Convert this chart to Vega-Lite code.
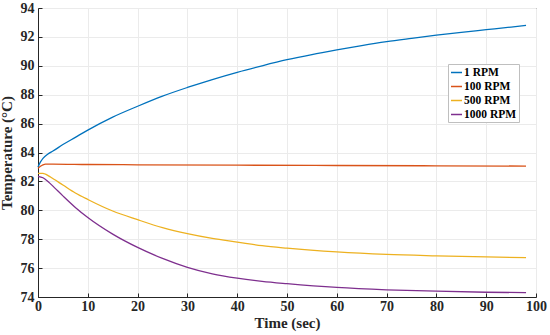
{
  "$schema": "https://vega.github.io/schema/vega-lite/v6.json",
  "width": 498,
  "height": 289,
  "autosize": {"type": "none"},
  "padding": {"left": 38, "top": 8, "right": 14, "bottom": 38},
  "background": "white",
  "config": {
    "view": {"stroke": "#262626", "strokeWidth": 1},
    "axis": {
      "labelFont": "Liberation Serif", "labelFontWeight": "bold", "labelFontSize": 14, "labelColor": "#262626",
      "titleFont": "Liberation Serif", "titleFontWeight": "bold", "titleFontSize": 15, "titleColor": "#262626",
      "domainColor": "#262626", "tickColor": "#262626", "gridColor": "#ebebeb", "gridWidth": 1
    }
  },
  "data": {"values": [
    {"t": 0, "T": 83.0, "s": "1 RPM"}, {"t": 0.5, "T": 83.35, "s": "1 RPM"}, {"t": 1, "T": 83.6, "s": "1 RPM"}, {"t": 2, "T": 83.9, "s": "1 RPM"}, {"t": 3, "T": 84.1, "s": "1 RPM"}, {"t": 5, "T": 84.55, "s": "1 RPM"}, {"t": 7.5, "T": 85.05, "s": "1 RPM"}, {"t": 10, "T": 85.55, "s": "1 RPM"}, {"t": 15, "T": 86.45, "s": "1 RPM"}, {"t": 20, "T": 87.2, "s": "1 RPM"}, {"t": 25, "T": 87.9, "s": "1 RPM"}, {"t": 30, "T": 88.5, "s": "1 RPM"}, {"t": 35, "T": 89.05, "s": "1 RPM"}, {"t": 40, "T": 89.55, "s": "1 RPM"}, {"t": 45, "T": 90.0, "s": "1 RPM"}, {"t": 50, "T": 90.42, "s": "1 RPM"}, {"t": 55, "T": 90.78, "s": "1 RPM"}, {"t": 60, "T": 91.1, "s": "1 RPM"}, {"t": 65, "T": 91.4, "s": "1 RPM"}, {"t": 70, "T": 91.67, "s": "1 RPM"}, {"t": 75, "T": 91.9, "s": "1 RPM"}, {"t": 80, "T": 92.12, "s": "1 RPM"}, {"t": 85, "T": 92.32, "s": "1 RPM"}, {"t": 90, "T": 92.5, "s": "1 RPM"}, {"t": 95, "T": 92.68, "s": "1 RPM"}, {"t": 98, "T": 92.8, "s": "1 RPM"},
    {"t": 0, "T": 82.9, "s": "100 RPM"}, {"t": 0.5, "T": 83.05, "s": "100 RPM"}, {"t": 1, "T": 83.15, "s": "100 RPM"}, {"t": 1.5, "T": 83.2, "s": "100 RPM"}, {"t": 3, "T": 83.2, "s": "100 RPM"}, {"t": 10, "T": 83.17, "s": "100 RPM"}, {"t": 20, "T": 83.15, "s": "100 RPM"}, {"t": 40, "T": 83.12, "s": "100 RPM"}, {"t": 60, "T": 83.1, "s": "100 RPM"}, {"t": 80, "T": 83.08, "s": "100 RPM"}, {"t": 98, "T": 83.06, "s": "100 RPM"},
    {"t": 0, "T": 82.55, "s": "500 RPM"}, {"t": 1, "T": 82.55, "s": "500 RPM"}, {"t": 1.5, "T": 82.5, "s": "500 RPM"}, {"t": 2.5, "T": 82.3, "s": "500 RPM"}, {"t": 5, "T": 81.75, "s": "500 RPM"}, {"t": 7.5, "T": 81.2, "s": "500 RPM"}, {"t": 10, "T": 80.75, "s": "500 RPM"}, {"t": 15, "T": 79.95, "s": "500 RPM"}, {"t": 20, "T": 79.35, "s": "500 RPM"}, {"t": 25, "T": 78.8, "s": "500 RPM"}, {"t": 30, "T": 78.38, "s": "500 RPM"}, {"t": 35, "T": 78.05, "s": "500 RPM"}, {"t": 40, "T": 77.8, "s": "500 RPM"}, {"t": 45, "T": 77.55, "s": "500 RPM"}, {"t": 50, "T": 77.38, "s": "500 RPM"}, {"t": 60, "T": 77.12, "s": "500 RPM"}, {"t": 70, "T": 76.95, "s": "500 RPM"}, {"t": 80, "T": 76.85, "s": "500 RPM"}, {"t": 90, "T": 76.77, "s": "500 RPM"}, {"t": 98, "T": 76.73, "s": "500 RPM"},
    {"t": 0, "T": 82.35, "s": "1000 RPM"}, {"t": 1, "T": 82.25, "s": "1000 RPM"}, {"t": 2, "T": 82.0, "s": "1000 RPM"}, {"t": 3.5, "T": 81.5, "s": "1000 RPM"}, {"t": 5, "T": 81.0, "s": "1000 RPM"}, {"t": 7.5, "T": 80.2, "s": "1000 RPM"}, {"t": 10, "T": 79.5, "s": "1000 RPM"}, {"t": 15, "T": 78.35, "s": "1000 RPM"}, {"t": 20, "T": 77.43, "s": "1000 RPM"}, {"t": 25, "T": 76.67, "s": "1000 RPM"}, {"t": 30, "T": 76.05, "s": "1000 RPM"}, {"t": 35, "T": 75.6, "s": "1000 RPM"}, {"t": 40, "T": 75.3, "s": "1000 RPM"}, {"t": 45, "T": 75.08, "s": "1000 RPM"}, {"t": 50, "T": 74.92, "s": "1000 RPM"}, {"t": 60, "T": 74.66, "s": "1000 RPM"}, {"t": 70, "T": 74.5, "s": "1000 RPM"}, {"t": 80, "T": 74.4, "s": "1000 RPM"}, {"t": 90, "T": 74.33, "s": "1000 RPM"}, {"t": 98, "T": 74.3, "s": "1000 RPM"}
  ]},
  "mark": {"type": "line", "strokeWidth": 1.3, "interpolate": "monotone"},
  "encoding": {
    "x": {"field": "t", "type": "quantitative", "title": "Time (sec)",
      "scale": {"domain": [0, 100], "nice": false},
      "axis": {"values": [0,10,20,30,40,50,60,70,80,90,100], "tickSize": -4, "labelPadding": 6, "titlePadding": 2, "labelFlush": false}},
    "y": {"field": "T", "type": "quantitative", "title": "Temperature (°C)",
      "scale": {"domain": [74, 94], "nice": false, "zero": false},
      "axis": {"values": [74,76,78,80,82,84,86,88,90,92,94], "tickSize": -4, "labelPadding": 8, "titlePadding": 6, "labelFlush": false}},
    "color": {"field": "s", "type": "nominal",
      "scale": {"domain": ["1 RPM", "100 RPM", "500 RPM", "1000 RPM"], "range": ["#0072BD", "#D95319", "#EDB120", "#7E2F8E"]},
      "legend": {"title": null, "orient": "none", "legendX": 410, "legendY": 56,
        "symbolType": "stroke", "symbolSize": 121, "symbolStrokeWidth": 1.5,
        "labelFont": "Liberation Serif", "labelFontWeight": "bold", "labelFontSize": 11.5, "labelColor": "#000000",
        "labelOffset": 1, "rowPadding": 2, "padding": 2, "strokeColor": "#bfbfbf", "fillColor": "white", "cornerRadius": 0}}
  }
}
